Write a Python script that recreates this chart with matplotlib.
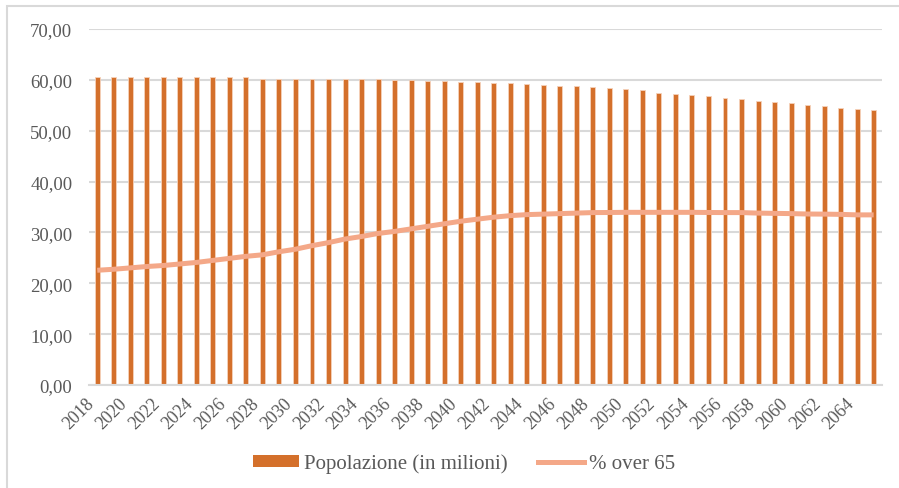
import matplotlib.pyplot as plt
from matplotlib.patches import Patch, Rectangle
from matplotlib.lines import Line2D

plt.rcParams['font.family'] = ['Liberation Serif', 'DejaVu Serif']

# dati (proiezioni popolazione Italia)
anni = list(range(2018, 2066))
popolazione = [60.46, 60.46, 60.46, 60.46, 60.46, 60.46, 60.46, 60.46, 60.46, 60.46,
               60.26, 60.26, 60.26, 60.26, 60.26, 60.13, 60.13, 60.13, 59.93, 59.93,
               59.74, 59.74, 59.54, 59.54, 59.34, 59.34, 59.15, 58.95, 58.75, 58.75,
               58.56, 58.36, 58.16, 57.97, 57.51, 57.31, 57.11, 56.92, 56.52, 56.33,
               55.93, 55.74, 55.54, 55.15, 54.95, 54.56, 54.36, 54.10]
over_65 = [22.56, 22.76, 23.03, 23.30, 23.50, 23.80, 24.10, 24.50, 24.90, 25.30,
           25.60, 26.20, 26.70, 27.40, 28.00, 28.70, 29.20, 29.80, 30.20, 30.70,
           31.20, 31.70, 32.20, 32.60, 33.00, 33.30, 33.50, 33.60, 33.70, 33.80,
           33.90, 33.92, 33.95, 33.95, 33.95, 33.95, 33.95, 33.92, 33.90, 33.90,
           33.80, 33.75, 33.70, 33.62, 33.60, 33.55, 33.45, 33.45]
etichette_y = ['0,00', '10,00', '20,00', '30,00', '40,00', '50,00', '60,00', '70,00']

arancio = '#d4702b'
salmone = '#f4a888'
grigio = '#595959'

fig = plt.figure(figsize=(8.99, 4.89), dpi=100)
ax = fig.add_axes([0.099, 0.2106, 0.882, 0.7281])

x = list(range(len(anni)))
ax.bar(x, popolazione, width=0.3, color=arancio, edgecolor='#f6d2bb', linewidth=0.6, zorder=2)
ax.plot(x, over_65, color=salmone, linewidth=3.6, solid_capstyle='butt', zorder=3)

ax.set_xlim(-0.5, len(anni) - 0.5)
ax.set_ylim(0, 70)
ax.set_yticks(range(0, 71, 10))
ax.set_yticklabels(etichette_y)
ax.yaxis.grid(True, color='#d9d9d9', linewidth=1.5, zorder=0)
ax.set_axisbelow(True)

ax.set_xticks(x[::2])
ax.set_xticklabels([str(a) for a in anni[::2]], rotation=45, ha='right', rotation_mode='default')

ax.tick_params(axis='y', length=0, pad=12, labelsize=13.5, labelcolor=grigio)
ax.tick_params(axis='x', length=0, pad=7, labelsize=13, labelcolor=grigio)
for s in ['top', 'right', 'left']:
    ax.spines[s].set_visible(False)
ax.spines['bottom'].set_color('#d9d9d9')
ax.spines['bottom'].set_linewidth(1.5)

# bordo esterno del riquadro
bordo = Rectangle((7 / 899, -0.1), 1.2, 1 - 7 / 489 + 0.1, transform=fig.transFigure,
                  fill=False, edgecolor='#d9d9d9', linewidth=1.5, clip_on=False)
fig.patches.append(bordo)

maniglie = [Patch(facecolor=arancio, edgecolor='none'),
            Line2D([0], [0], color=salmone, linewidth=3.6)]
fig.legend(maniglie, ['Popolazione (in milioni)', '% over 65'], loc='center',
           bbox_to_anchor=(0.516, 0.05), ncol=2, frameon=False, fontsize=15,
           labelcolor=grigio, handlelength=2.2, handleheight=0.45, handletextpad=0.25,
           columnspacing=1.45)

fig.savefig('out.png', dpi=100)
